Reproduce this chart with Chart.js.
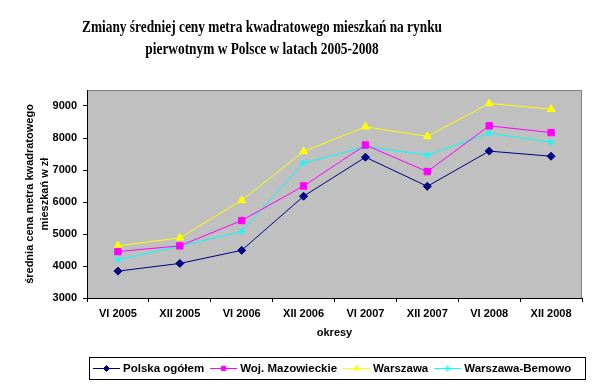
<!DOCTYPE html>
<html>
<head>
<meta charset="utf-8">
<script src="https://cdn.jsdelivr.net/npm/chart.js@4.4.1/dist/chart.umd.min.js"></script>
<style>
  html, body { margin: 0; padding: 0; background: #ffffff; }
  canvas { display: block; }
</style>
</head>
<body>
<canvas id="chart" width="597" height="388"></canvas>
<script>
const periods = ['VI 2005', 'XII 2005', 'VI 2006', 'XII 2006', 'VI 2007', 'XII 2007', 'VI 2008', 'XII 2008'];
const polskaOgolem = [3840, 4080, 4490, 6180, 7400, 6490, 7590, 7430];
const wojMazowieckie = [4450, 4630, 5420, 6500, 7780, 6950, 8380, 8170];
const warszawa = [4630, 4880, 6050, 7580, 8350, 8050, 9080, 8900];
const warszawaBemowo = [4190, 4620, 5080, 7220, 7730, 7470, 8150, 7870];
const seriesNames = ['Polska ogółem', 'Woj. Mazowieckie', 'Warszawa', 'Warszawa-Bemowo'];
const yTickValues = [3000, 4000, 5000, 6000, 7000, 8000, 9000];
const yMin = 3000;
const yMax = 9500;

const titleLines = ['Zmiany średniej ceny metra kwadratowego mieszkań na rynku', 'pierwotnym w Polsce w latach 2005-2008'];
const yTitle = ['średnia cena metra kwadratowego', 'mieszkań w zł'];
const xTitle = 'okresy';

const SANS = '"Liberation Sans", Arial, sans-serif';
const SERIF = '"Liberation Serif", "Times New Roman", serif';

function series(label, data, color, pointStyle, radius) {
    return {
        label,
        data,
        borderColor: color,
        backgroundColor: color,
        borderWidth: 1,
        pointStyle,
        pointRadius: radius,
        pointBorderWidth: 1,
        pointBackgroundColor: color,
        pointBorderColor: color,
        tension: 0,
        fill: false
    };
}

// gray plot area + frame, title and boxed legend like the Excel original
const excelLook = {
    id: 'excelLook',
    beforeDraw(chart) {
        const { ctx, chartArea: a } = chart;
        ctx.save();
        ctx.fillStyle = '#c0c0c0';
        ctx.fillRect(a.left, a.top, a.right - a.left, a.bottom - a.top);
        ctx.strokeStyle = '#808080';
        ctx.lineWidth = 1;
        ctx.beginPath();
        ctx.moveTo(a.left, a.top + 0.5);
        ctx.lineTo(a.right - 0.5, a.top + 0.5);
        ctx.lineTo(a.right - 0.5, a.bottom);
        ctx.stroke();
        ctx.restore();
    },
    afterDraw(chart) {
        const ctx = chart.ctx;
        ctx.save();

        // title (squeezed sideways, as in the original picture)
        ctx.fillStyle = '#000000';
        ctx.font = 'bold 16px ' + SERIF;
        ctx.textAlign = 'center';
        ctx.textBaseline = 'middle';
        const squeeze = 360 / ctx.measureText(titleLines[0]).width;
        titleLines.forEach((line, i) => {
            ctx.save();
            ctx.translate(262, 28 + i * 22);
            ctx.scale(squeeze, 1);
            ctx.fillText(line, 0, 0);
            ctx.restore();
        });

        // legend
        ctx.strokeStyle = '#000000';
        ctx.lineWidth = 1;
        ctx.strokeRect(89.5, 357.5, 496, 22);
        ctx.font = 'bold 11.5px ' + SANS;
        ctx.textAlign = 'left';
        let x = 93;
        const y = 368.5;
        chart.data.datasets.forEach(ds => {
            ctx.strokeStyle = ds.borderColor;
            ctx.beginPath();
            ctx.moveTo(x, y);
            ctx.lineTo(x + 27, y);
            ctx.stroke();
            ctx.fillStyle = ds.borderColor;
            Chart.helpers.drawPoint(ctx, { pointStyle: ds.pointStyle, radius: 3, borderWidth: 1, rotation: 0 }, x + 13.5, y);
            ctx.fillStyle = '#000000';
            ctx.fillText(ds.label, x + 30, y);
            x += 30 + ctx.measureText(ds.label).width + 6;
        });
        ctx.restore();
    }
};

const ctx = document.getElementById('chart').getContext('2d');
new Chart(ctx, {
    type: 'line',
    data: {
        labels: periods,
        datasets: [
            series(seriesNames[0], polskaOgolem, '#000080', 'rectRot', 4),
            series(seriesNames[1], wojMazowieckie, '#ff00ff', 'rect', 4.5),
            series(seriesNames[2], warszawa, '#ffff00', 'triangle', 4.5),
            series(seriesNames[3], warszawaBemowo, '#00ffff', 'star', 3.5)
        ]
    },
    options: {
        responsive: false,
        animation: false,
        devicePixelRatio: 1,
        layout: { padding: { top: 90, right: 15, bottom: 46, left: 0 } },
        plugins: {
            legend: { display: false },
            title: { display: false },
            tooltip: { enabled: false }
        },
        scales: {
            x: {
                offset: true,
                afterFit: s => { s.height = 44; },
                border: { color: '#000000', width: 1 },
                grid: { offset: true, drawOnChartArea: false, drawTicks: true, tickLength: 4, color: '#000000' },
                ticks: { color: '#000000', padding: 5, maxRotation: 0, autoSkip: false, font: { family: SANS, size: 11, weight: 'bold' } },
                title: { display: true, text: xTitle, color: '#000000', padding: { top: 0, bottom: 2 }, font: { family: SANS, size: 11, weight: 'bold', lineHeight: 1.2 } }
            },
            y: {
                min: yMin,
                max: yMax,
                afterFit: s => { s.width = 87; },
                afterBuildTicks: s => { s.ticks = yTickValues.map(v => ({ value: v })); },
                border: { color: '#000000', width: 1 },
                grid: { drawOnChartArea: false, drawTicks: true, tickLength: 4, color: '#000000' },
                ticks: {
                    color: '#000000',
                    padding: 6,
                    callback: v => String(v),
                    font: { family: SANS, size: 11, weight: 'bold' }
                },
                title: { display: true, text: yTitle, color: '#000000', padding: { top: 22, bottom: 0 }, font: { family: SANS, size: 11, weight: 'bold', lineHeight: 15 / 11 } }
            }
        }
    },
    plugins: [excelLook]
});
</script>
</body>
</html>
